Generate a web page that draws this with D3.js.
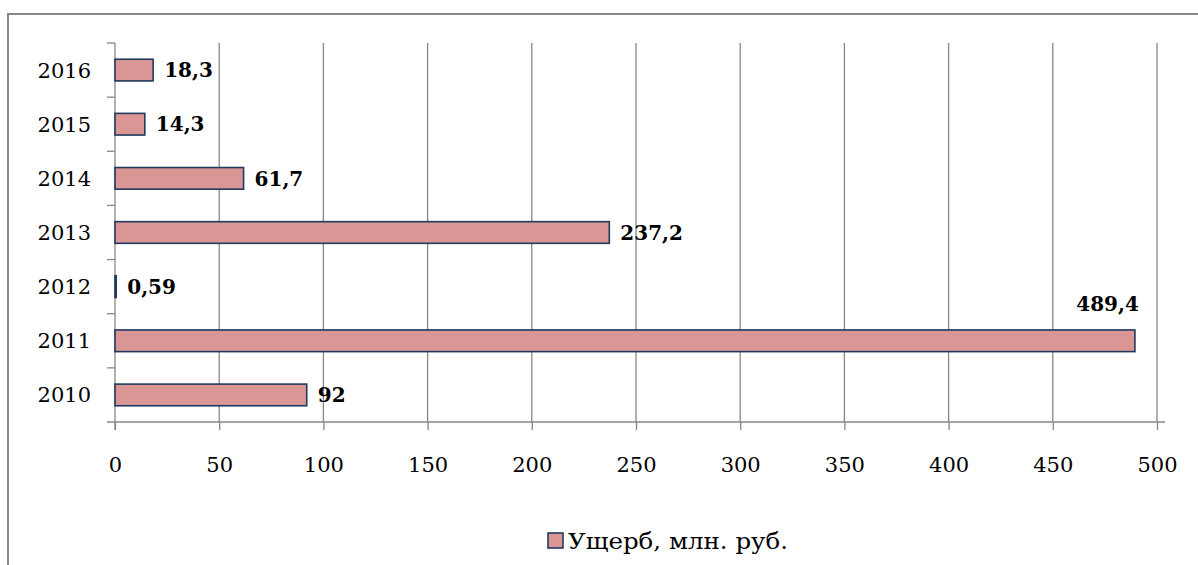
<!DOCTYPE html>
<html lang="ru">
<head>
<meta charset="UTF-8">
<title>Ущерб, млн. руб.</title>
<script src="https://cdn.jsdelivr.net/npm/d3@7"></script>
<style>
  body {margin: 0; background: #fff; overflow: hidden;}
  text {font-family: "DejaVu Serif", "Liberation Serif", serif;}
</style>
</head>
<body>
<svg id="chart" width="1198" height="565"></svg>
<script>
// data
var years = ['2010', '2011', '2012', '2013', '2014', '2015', '2016'];
var damage = [92, 489.4, 0.59, 237.2, 61.7, 14.3, 18.3];
var labels = ['92', '489,4', '0,59', '237,2', '61,7', '14,3', '18,3'];
var xTicks = [0, 50, 100, 150, 200, 250, 300, 350, 400, 450, 500];
var seriesName = 'Ущерб, млн. руб.';

var svg = d3.select('#chart');
var grey = '#878787';

// chart frame (right and bottom run off the page)
svg.append('path')
    .attr('d', 'M8,566 L8,14 L1200,14')
    .attr('fill', 'none')
    .attr('stroke', grey)
    .attr('stroke-width', 2);

var plotL = 115, plotR = 1157, plotT = 43, plotB = 422;

var x = d3.scaleLinear().domain([0, 500]).range([plotL, plotR]);
var y = d3.scaleBand().domain(years.slice().reverse()).range([plotT, plotB]).paddingInner(0.6).paddingOuter(0.3);
var band = d3.scaleBand().domain(years.slice().reverse()).range([plotT, plotB]);

// vertical gridlines
svg.append('g').selectAll('line')
    .data(xTicks.slice(1))
    .enter().append('line')
    .attr('x1', function(d) { return x(d); })
    .attr('x2', function(d) { return x(d); })
    .attr('y1', plotT)
    .attr('y2', plotB)
    .attr('stroke', grey)
    .attr('stroke-width', 1.3);

// x axis
var xAxis = svg.append('g')
    .attr('transform', 'translate(0,' + plotB + ')')
    .call(d3.axisBottom(x).tickValues(xTicks).tickSize(8).tickPadding(27).tickSizeOuter(0));
xAxis.select('.domain').attr('d', 'M' + (plotL - 8) + ',0H' + (plotR + 8)).attr('stroke', grey).attr('stroke-width', 1.3);
xAxis.selectAll('.tick line').attr('stroke', grey).attr('stroke-width', 1.3);
xAxis.selectAll('.tick text')
    .attr('font-family', 'DejaVu Serif')
    .attr('font-size', 21)
    .attr('fill', '#000');

// y axis: ticks sit between categories
var yg = svg.append('g');
yg.append('line')
    .attr('x1', plotL).attr('x2', plotL)
    .attr('y1', plotT).attr('y2', plotB + 8)
    .attr('stroke', grey).attr('stroke-width', 1.3);
yg.selectAll('line.tk')
    .data(years)
    .enter().append('line')
    .attr('class', 'tk')
    .attr('x1', plotL - 8).attr('x2', plotL)
    .attr('y1', function(d) { return band(d); })
    .attr('y2', function(d) { return band(d); })
    .attr('stroke', grey).attr('stroke-width', 1.3);
yg.selectAll('text')
    .data(years)
    .enter().append('text')
    .attr('x', plotL - 24)
    .attr('y', function(d) { return band(d) + band.bandwidth() / 2; })
    .attr('dy', '0.36em')
    .attr('text-anchor', 'end')
    .attr('font-size', 21)
    .text(function(d) { return d; });

// bars
svg.append('g').selectAll('rect')
    .data(years)
    .enter().append('rect')
    .attr('x', x(0))
    .attr('y', function(d) { return y(d); })
    .attr('width', function(d, i) { return Math.max(x(damage[i]) - x(0), 0.5); })
    .attr('height', y.bandwidth())
    .attr('fill', '#d99694')
    .attr('stroke', '#1f3a5f')
    .attr('stroke-width', 1.6);

// data labels; the longest one is lifted above its bar
var maxV = d3.max(damage);
svg.append('g').selectAll('text')
    .data(years)
    .enter().append('text')
    .attr('x', function(d, i) { return damage[i] === maxV ? x(damage[i]) + 4 : x(damage[i]) + 11; })
    .attr('y', function(d) { return y(d) + y.bandwidth() / 2; })
    .attr('dy', function(d, i) { return damage[i] === maxV ? '-1.5em' : '0.36em'; })
    .attr('text-anchor', function(d, i) { return damage[i] === maxV ? 'end' : 'start'; })
    .attr('font-size', 20)
    .attr('font-weight', 'bold')
    .text(function(d, i) { return labels[i]; });

// legend
var lg = svg.append('g').attr('transform', 'translate(548,533)');
lg.append('rect')
    .attr('width', 15).attr('height', 15)
    .attr('fill', '#d99694')
    .attr('stroke', '#1f3a5f')
    .attr('stroke-width', 1.6);
lg.append('text')
    .attr('x', 20).attr('y', 8)
    .attr('dy', '0.36em')
    .attr('font-size', 22)
    .attr('textLength', 220)
    .attr('lengthAdjust', 'spacingAndGlyphs')
    .text(seriesName);
</script>
</body>
</html>
